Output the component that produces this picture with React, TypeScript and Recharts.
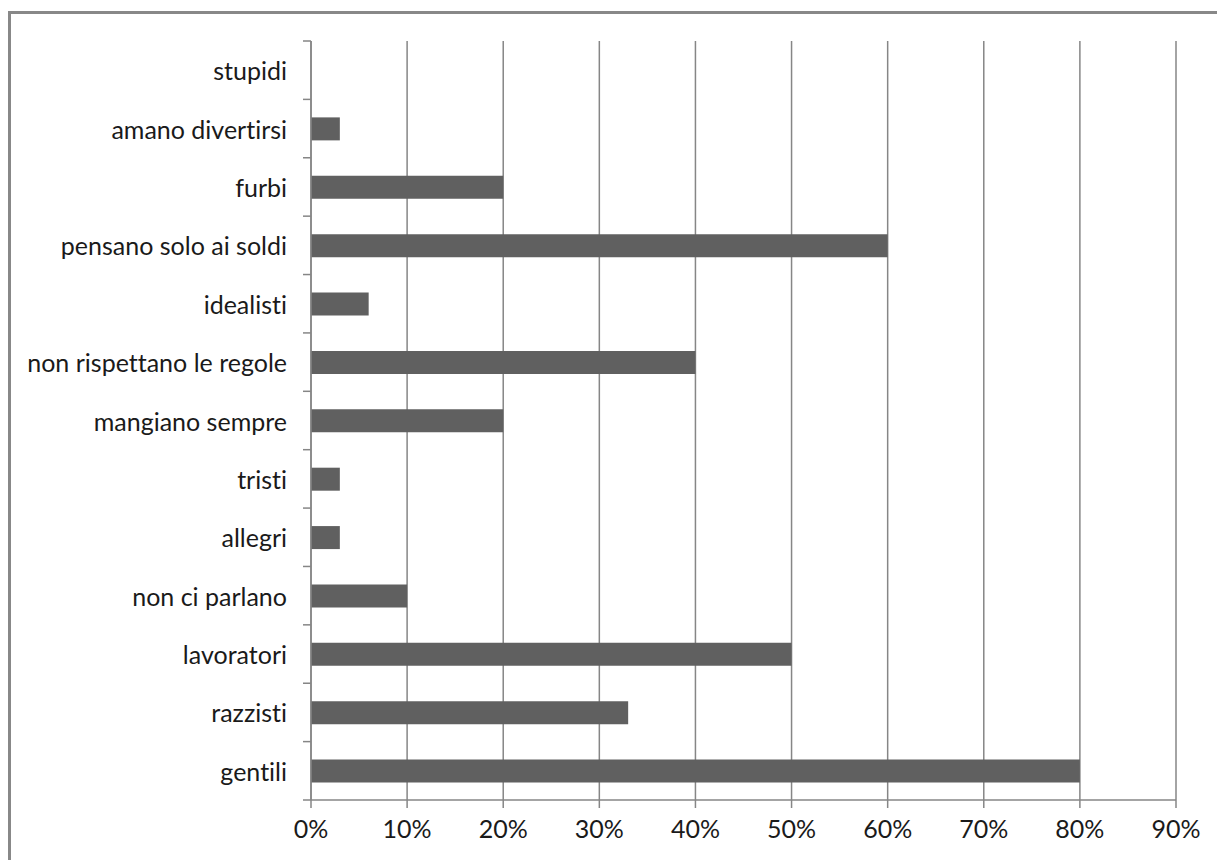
import React from 'react';
import { BarChart, Bar, XAxis, YAxis, CartesianGrid } from 'recharts';

const categories = [
  'stupidi',
  'amano divertirsi',
  'furbi',
  'pensano solo ai soldi',
  'idealisti',
  'non rispettano le regole',
  'mangiano sempre',
  'tristi',
  'allegri',
  'non ci parlano',
  'lavoratori',
  'razzisti',
  'gentili',
];
const values = [0, 0.03, 0.2, 0.6, 0.06, 0.4, 0.2, 0.03, 0.03, 0.1, 0.5, 0.33, 0.8];
const xTicks = [0, 0.1, 0.2, 0.3, 0.4, 0.5, 0.6, 0.7, 0.8, 0.9];

const data = categories.map((c, i) => ({ name: c, value: values[i] }));

const W = 1217;
const H = 860;
const TOP = 41;
const BOTTOM_AXIS = 800;
const AXIS_X = 311;
const RIGHT = 1176;
const FONT = 'Lato, sans-serif';
const FS = 25;
const GRID = '#868686';
const TEXT_STYLE = { fontVariantLigatures: 'none' as const, fontFeatureSettings: '"liga" 0, "clig" 0' };

const band = (BOTTOM_AXIS - TOP) / categories.length;

const YTick = (props: any) => {
  const { y, payload, index } = props;
  const yy = Number(y);
  return (
    <g>
      <text
        x={AXIS_X - 24}
        y={yy}
        textAnchor="end"
        dominantBaseline="central"
        fontFamily={FONT}
        fontSize={FS}
        fill="#1a1a1a"
        style={TEXT_STYLE}
      >
        {payload.value}
      </text>
      <line x1={AXIS_X - 8} x2={AXIS_X} y1={yy - band / 2} y2={yy - band / 2} stroke={GRID} strokeWidth={1.5} />
      {index === categories.length - 1 ? (
        <line x1={AXIS_X - 8} x2={AXIS_X} y1={yy + band / 2} y2={yy + band / 2} stroke={GRID} strokeWidth={1.5} />
      ) : null}
    </g>
  );
};

const XTick = (props: any) => {
  const { x, payload } = props;
  return (
    <text
      x={Number(x)}
      y={828}
      textAnchor="middle"
      dominantBaseline="central"
      fontFamily={FONT}
      fontSize={FS}
      fill="#1a1a1a"
      style={TEXT_STYLE}
    >
      {`${Math.round(payload.value * 100)}%`}
    </text>
  );
};

export default function App() {
  return (
    <div style={{ position: 'fixed', left: 0, top: 0, width: W, height: H, overflow: 'hidden', background: '#fff' }}>
      <div
        style={{
          position: 'absolute',
          left: 8,
          top: 11,
          width: 1400,
          height: 1000,
          border: '3px solid #888888',
          boxSizing: 'border-box',
        }}
      />
      <div style={{ position: 'absolute', left: 0, top: 0 }}>
        <BarChart
          width={W}
          height={H}
          data={data}
          layout="vertical"
          margin={{ top: TOP, right: W - RIGHT, bottom: 0, left: 0 }}
        >
          <CartesianGrid horizontal={false} vertical stroke={GRID} strokeWidth={1.5} />
          <XAxis
            type="number"
            domain={[0, 0.9]}
            ticks={xTicks}
            interval={0}
            height={H - BOTTOM_AXIS}
            axisLine={{ stroke: GRID, strokeWidth: 1.5 }}
            tickLine={{ stroke: GRID, strokeWidth: 1.5 }}
            tickSize={8}
            tick={<XTick />}
          />
          <YAxis
            type="category"
            dataKey="name"
            width={AXIS_X}
            interval={0}
            axisLine={{ stroke: GRID, strokeWidth: 1.5 }}
            tickLine={false}
            tick={<YTick />}
          />
          <Bar dataKey="value" fill="#606060" barSize={23} isAnimationActive={false} />
        </BarChart>
      </div>
    </div>
  );
}
